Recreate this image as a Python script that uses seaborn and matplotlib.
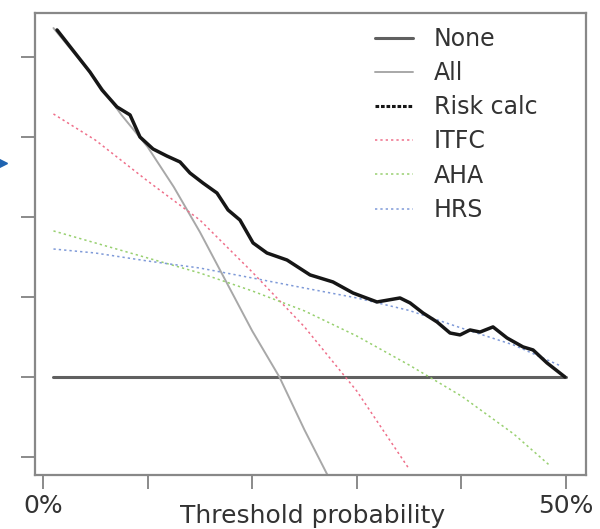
import numpy as np
import pandas as pd
import matplotlib
matplotlib.use("Agg")
import matplotlib.pyplot as plt
import seaborn as sns
from matplotlib.lines import Line2D

# Threshold probabilities (%) and net benefit for each strategy
none_pt = [1.0, 50.0]
none_nb = [0.0, 0.0]

all_pt = [1.0, 5.0, 7.5, 10.0, 12.5, 15.0, 20.0, 22.6, 25.0, 27.2]
all_nb = [0.2181, 0.1863, 0.1638, 0.1438, 0.1188, 0.0906, 0.0288, 0.0,
          -0.0331, -0.0613]

risk_pt = [1.34, 4.49, 5.64, 7.07, 8.32, 9.27, 10.52, 11.85, 13.10, 14.05,
           15.30, 16.63, 17.69, 18.83, 20.08, 21.41, 23.33, 25.53, 27.72,
           29.64, 31.93, 34.13, 35.09, 36.33, 37.67, 38.91, 39.87, 40.82,
           41.78, 43.02, 44.36, 45.89, 46.85, 48.18, 49.90]
risk_nb = [0.2169, 0.1906, 0.1794, 0.1688, 0.1638, 0.1500, 0.1425, 0.1381,
           0.1344, 0.1275, 0.1212, 0.1150, 0.1044, 0.0981, 0.0838, 0.0775,
           0.0731, 0.0638, 0.0594, 0.0525, 0.0469, 0.0494, 0.0463, 0.0400,
           0.0344, 0.0275, 0.0263, 0.0294, 0.0281, 0.0313, 0.0244, 0.0188,
           0.0169, 0.0088, 0.0]

itfc_pt = [1.0, 5.0, 10.0, 15.0, 20.0, 25.0, 30.0, 35.0]
itfc_nb = [0.1644, 0.1481, 0.1225, 0.0981, 0.0656, 0.0313, -0.0088, -0.0575]

aha_pt = [1.0, 5.0, 10.0, 15.0, 20.0, 25.0, 30.0, 35.0, 40.0, 45.0, 48.5]
aha_nb = [0.0913, 0.0838, 0.0744, 0.0650, 0.0538, 0.0413, 0.0256, 0.0075,
          -0.0119, -0.0356, -0.0556]

hrs_pt = [1.0, 5.0, 10.0, 15.0, 20.0, 25.0, 30.0, 35.0, 40.0, 45.0, 49.5]
hrs_nb = [0.0800, 0.0775, 0.0725, 0.0681, 0.0619, 0.0556, 0.0494, 0.0416,
          0.0306, 0.0200, 0.0069]

labels = ["None", "All", "Risk calc", "ITFC", "AHA", "HRS"]

sns.set_theme(style="white")
plt.rcParams["font.family"] = ["DejaVu Sans"]

fig = plt.figure(figsize=(6.0, 5.29), dpi=100)
ax = fig.add_axes([35 / 600, 1 - 475 / 529, (586 - 35) / 600, (475 - 13) / 529])

styles = {
    "None": dict(color="#606060", lw=2.2, ls="-"),
    "All": dict(color="#a8a8a8", lw=1.4, ls="-"),
    "Risk calc": dict(color="#161616", lw=2.5, ls="-"),
    "ITFC": dict(color="#ef6f8a", lw=1.1, ls=(0, (1.5, 2.0))),
    "AHA": dict(color="#98d070", lw=1.1, ls=(0, (1.5, 2.0))),
    "HRS": dict(color="#7f9ad8", lw=1.1, ls=(0, (1.5, 2.0))),
}
legend_styles = dict(styles)
legend_styles["Risk calc"] = dict(color="#161616", lw=2.2, ls=(0, (1.2, 0.6)))

series = {
    "None": (none_pt, none_nb),
    "All": (all_pt, all_nb),
    "ITFC": (itfc_pt, itfc_nb),
    "AHA": (aha_pt, aha_nb),
    "HRS": (hrs_pt, hrs_nb),
    "Risk calc": (risk_pt, risk_nb),
}

for name, (x, y) in series.items():
    df = pd.DataFrame({"pt": x, "nb": y})
    st = styles[name]
    sns.lineplot(data=df, x="pt", y="nb", ax=ax, color=st["color"],
                 linewidth=st["lw"], linestyle=st["ls"], sort=False,
                 estimator=None, legend=False)

ax.set_xlim(-0.765, 51.91)
ax.set_ylim(-0.06125, 0.2275)

ax.set_xticks([0, 10, 20, 30, 40, 50])
ax.set_xticklabels(["0%", "", "", "", "", "50%"], fontsize=18, color="#333333")
ax.set_yticks([-0.05, 0.0, 0.05, 0.10, 0.15, 0.20])
ax.set_yticklabels([])
ax.tick_params(axis="both", direction="out", length=10, width=1.2,
               color="#777777", bottom=True, left=True)
ax.tick_params(axis="x", pad=4)
ax.set_xlabel("")
ax.set_ylabel("")

for sp in ax.spines.values():
    sp.set_color("#888888")
    sp.set_linewidth(1.6)

fig.text(313 / 600, 1 - 504 / 529, "Threshold probability", ha="center",
         va="top", fontsize=18, color="#333333")

handles = [Line2D([], [], color=legend_styles[n]["color"],
                  lw=legend_styles[n]["lw"], ls=legend_styles[n]["ls"])
           for n in labels]
ax.legend(handles, labels, loc="upper left", bbox_to_anchor=(375 / 600, 1 - 27 / 529),
          bbox_transform=fig.transFigure, frameon=False, fontsize=17,
          handlelength=1.6, handletextpad=0.9, labelspacing=0.43,
          borderaxespad=0, borderpad=0, labelcolor="#333333")

fig.add_artist(Line2D([1 / 600], [1 - 163 / 529], marker=">", markersize=8,
                      color="#1f63b0", transform=fig.transFigure))

fig.savefig("out.png", dpi=100)
